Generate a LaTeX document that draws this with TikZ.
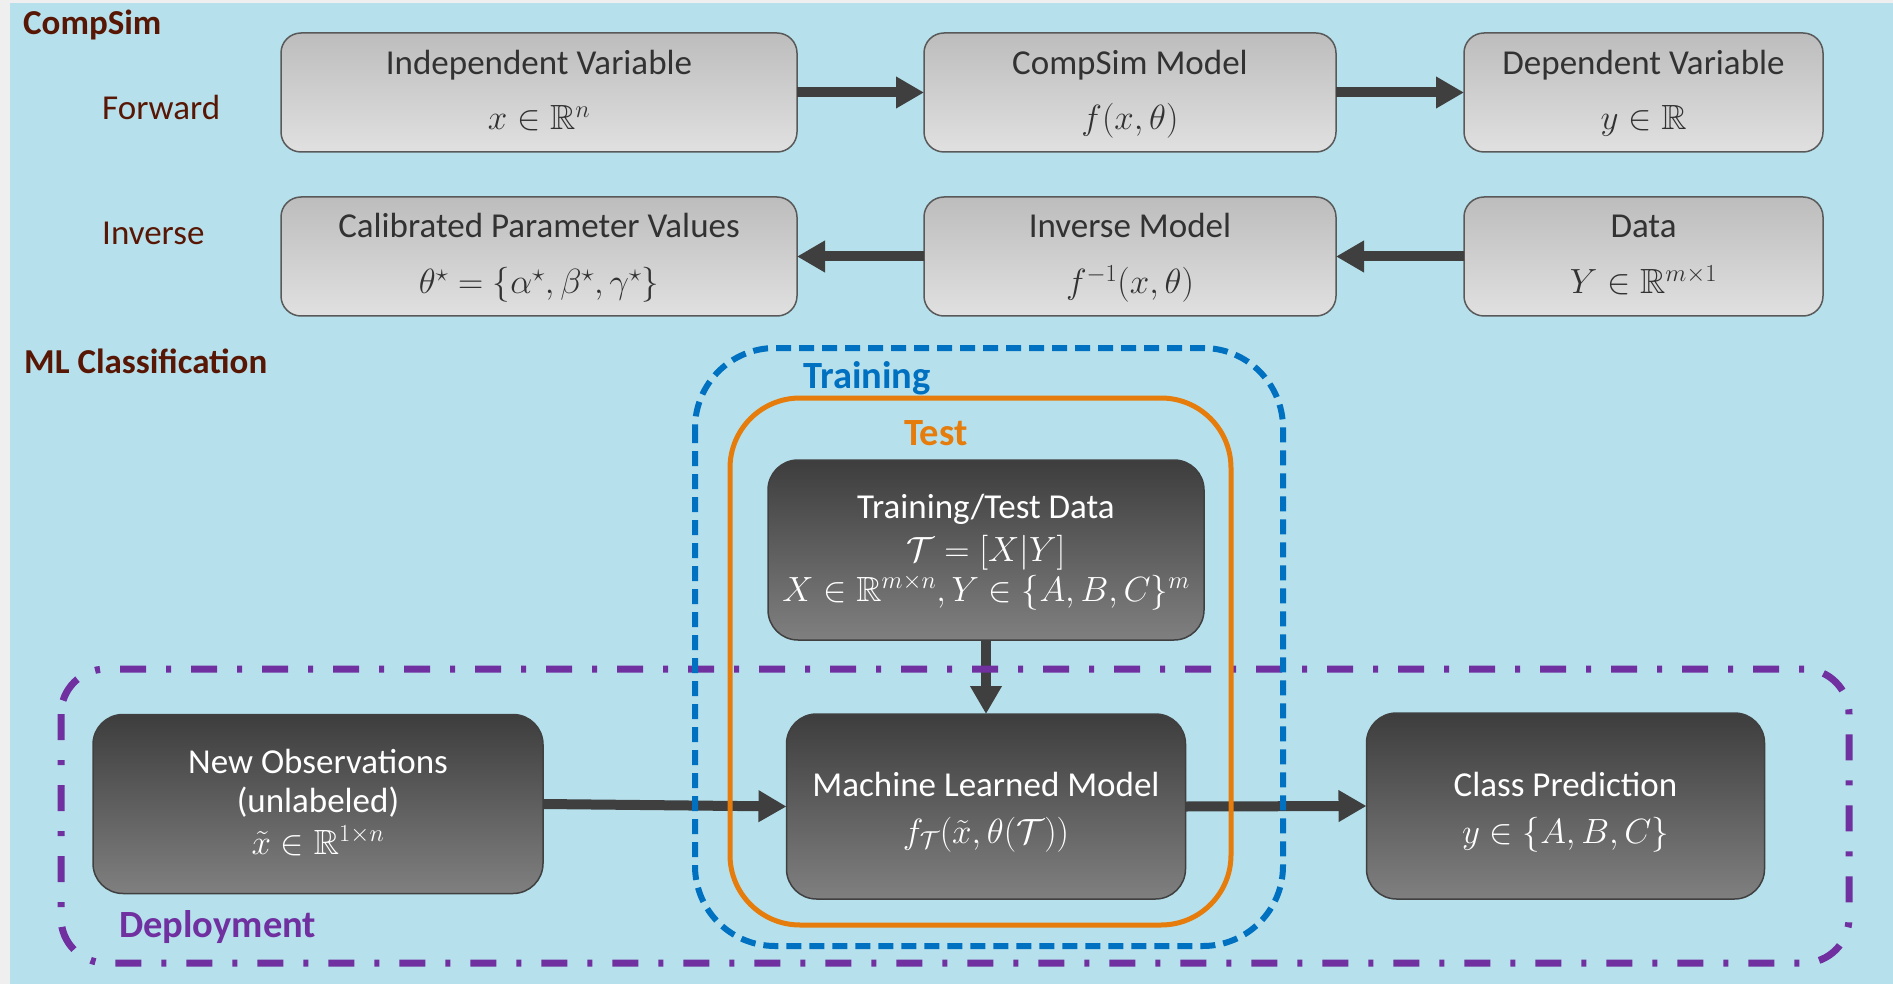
\documentclass[tikz,border=0pt]{standalone}
\usepackage{fix-cm}
\usepackage{amsmath,amssymb}
\usepackage{fontspec}
\setmainfont{Carlito}
\usetikzlibrary{arrows.meta}

\definecolor{framegray}{RGB}{239,239,239}
\definecolor{bgblue}{RGB}{182,225,236}
\definecolor{labelred}{RGB}{88,22,4}
\definecolor{trainblue}{RGB}{0,112,192}
\definecolor{testorange}{RGB}{230,124,12}
\definecolor{deppurple}{RGB}{112,48,160}
\definecolor{arrowgray}{RGB}{63,63,63}
\definecolor{boxtext}{RGB}{50,50,50}

\newcommand\bigtext{\fontsize{35}{41}\selectfont}
\newcommand\grouptext{\fontsize{38.5}{44}\selectfont}

\begin{document}
\begin{tikzpicture}[x=1pt,y=-1pt,
  lightbox/.style={draw=black!65, line width=1.5pt, rounded corners=20pt,
    top color=black!26, middle color=black!12, bottom color=black!12,
    inner sep=0pt, outer sep=0pt},
  darkbox/.style={draw=black!75, line width=1.5pt, rounded corners=30pt,
    top color=black!76, middle color=black!50, bottom color=black!50,
    inner sep=0pt, outer sep=0pt},
  lighttxt/.style={font=\bigtext, text=boxtext, inner sep=0pt, anchor=base},
  darktxt/.style={font=\bigtext, text=white, inner sep=0pt, anchor=base},
  sidelabel/.style={font=\bigtext, text=labelred, inner sep=0pt, anchor=base west},
  sectionlabel/.style={font=\bigtext\bfseries, text=labelred, inner sep=0pt, anchor=base west},
  grouplabel/.style={font=\grouptext\bfseries, inner sep=0pt, anchor=base west},
  bigarrow/.style={draw=arrowgray, line width=10pt,
    -{Triangle[length=28pt,width=30pt]}},
]
\useasboundingbox (0,0) rectangle (1893,984);
\fill[framegray] (0,0) rectangle (1893,984);
\fill[bgblue] (10,3) rectangle (1893,984);

% ---- CompSim: forward and inverse rows
\node[lightbox, minimum width=516pt, minimum height=119pt] (iv)   at (539,92.5) {};
\node[lightbox, minimum width=412pt, minimum height=119pt] (cm)   at (1130,92.5) {};
\node[lightbox, minimum width=359pt, minimum height=119pt] (dv)   at (1643.5,92.5) {};
\node[lightbox, minimum width=516pt, minimum height=119pt] (cal)  at (539,256.5) {};
\node[lightbox, minimum width=412pt, minimum height=119pt] (im)   at (1130,256.5) {};
\node[lightbox, minimum width=359pt, minimum height=119pt] (data) at (1643.5,256.5) {};

\node[lighttxt] (ivt)  at (539,75)    {Independent Variable};
\node[lighttxt] (ivm)  at (539,130)   {$x\in\mathbb{R}^n$};
\node[lighttxt] (cmt)  at (1130,75)   {CompSim Model};
\node[lighttxt] (cmm)  at (1130,130)  {$f(x,\theta)$};
\node[lighttxt] (dvt)  at (1643.5,75) {Dependent Variable};
\node[lighttxt] (dvm)  at (1643.5,130){$y\in\mathbb{R}$};
\node[lighttxt] (calt) at (539,238)   {Calibrated Parameter Values};
\node[lighttxt] (calm) at (539,294)   {$\theta^\star=\{\alpha^\star,\beta^\star,\gamma^\star\}$};
\node[lighttxt] (imt)  at (1130,238)  {Inverse Model};
\node[lighttxt] (imm)  at (1130,294)  {$f^{-1}(x,\theta)$};
\node[lighttxt] (datat) at (1643.5,238) {Data};
\node[lighttxt] (datam) at (1643.5,294) {$Y\in\mathbb{R}^{m\times1}$};

\draw[bigarrow] (iv.east) -- (cm.west);
\draw[bigarrow] (cm.east) -- (dv.west);
\draw[bigarrow] (data.west) -- (im.east);
\draw[bigarrow] (im.west) -- (cal.east);

% ---- ML classification
\node[darkbox, minimum width=436pt, minimum height=180pt] (ttd) at (986,550) {};
\node[darkbox, minimum width=399pt, minimum height=185pt] (mlm) at (986,806.5) {};
\node[darkbox, minimum width=450pt, minimum height=179pt] (obs) at (318,804) {};
\node[darkbox, minimum width=398pt, minimum height=186pt] (cls) at (1565.5,806) {};

\node[darktxt] (ttdt) at (986,518) {Training/Test Data};
\node[darktxt] (ttdm) at (986,561) {$\mathcal{T}=[X|Y]$};
\node[darktxt] (ttdx) at (986,601) {$X\in\mathbb{R}^{m\times n},Y\in\{A,B,C\}^m$};
\node[darktxt] (mlmt) at (986,796) {Machine Learned Model};
\node[darktxt] (mlmm) at (986,843) {$f_{\mathcal{T}}(\tilde{x},\theta(\mathcal{T}))$};
\node[darktxt] (obst) at (318,773) {New Observations};
\node[darktxt] (obsu) at (318,812) {(unlabeled)};
\node[darktxt] (obsm) at (318,854) {$\tilde{x}\in\mathbb{R}^{1\times n}$};
\node[darktxt] (clst) at (1565.5,796) {Class Prediction};
\node[darktxt] (clsm) at (1565.5,843) {$y\in\{A,B,C\}$};

\draw[bigarrow] (ttd.south) -- (mlm.north);
\draw[bigarrow] (obs.east) -- (mlm.west);
\draw[bigarrow] (mlm.east) -- (cls.west);

% ---- group frames
\draw[deppurple, line width=7pt, dash pattern=on 26pt off 20pt on 5pt off 20pt,
  rounded corners=45pt] (61,669) rectangle (1849,963);
\draw[testorange, line width=5pt, rounded corners=70pt] (730,398) rectangle (1231,925);
\draw[trainblue, line width=6pt, dash pattern=on 15pt off 8pt,
  rounded corners=80pt] (695,348) rectangle (1283,946);

% ---- labels
\node[sectionlabel] (lcompsim) at (23,35) {CompSim};
\node[sidelabel] (lfwd) at (102,120) {Forward};
\node[sidelabel] (linv) at (102,245) {Inverse};
\node[sectionlabel] (lml) at (24,373) {ML Classification};
\node[grouplabel, text=trainblue] (ltrain) at (803,388) {Training};
\node[grouplabel, text=testorange] (ltest) at (904,445) {Test};
\node[grouplabel, text=deppurple] (ldeploy) at (119,937) {Deployment};
\end{tikzpicture}
\end{document}
